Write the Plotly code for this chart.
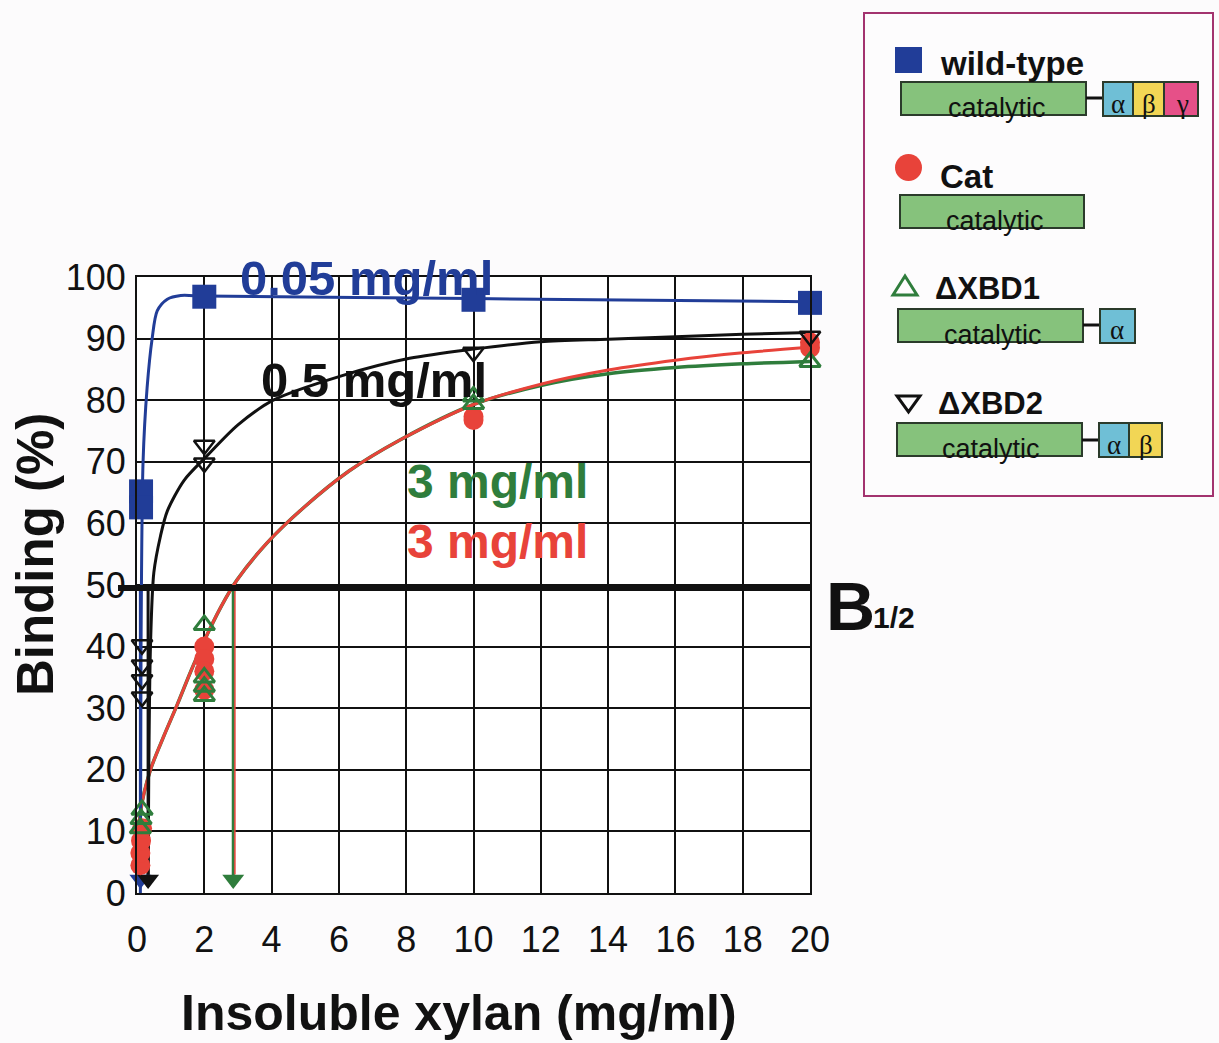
import plotly.graph_objects as go

# ---------------- data ----------------
x_ticks = [0, 2, 4, 6, 8, 10, 12, 14, 16, 18, 20]
y_ticks = [0, 10, 20, 30, 40, 50, 60, 70, 80, 90, 100]

# measured points
wt_x = [0.12, 0.12, 2, 10, 20]
wt_y = [65.2, 62.6, 96.8, 96.3, 95.8]

cat_x = [0.1, 0.1, 0.12, 0.15, 2, 2, 2, 2, 10, 10, 20, 20]
cat_y = [4.5, 6.5, 8.5, 10.5, 40, 38, 36, 33, 77.3, 76.8, 89.4, 88.5]

xbd1_x = [0.1, 0.12, 0.15, 2, 2, 2, 2, 10, 10, 20]
xbd1_y = [10.5, 12, 13.5, 43.5, 35, 33.5, 32, 80.6, 79.4, 86.2]

xbd2_x = [0.15, 0.15, 0.15, 0.15, 2, 2, 10, 20]
xbd2_y = [40.3, 37, 34.6, 31.8, 72.7, 69.8, 87.8, 90.4]

# fitted curves
wt_curve_x = [0.1, 0.12, 0.18, 0.3, 0.45, 0.6, 0.9, 1.3, 2, 10, 20]
wt_curve_y = [0, 40, 70, 82, 90, 94.5, 96.4, 97.0, 96.9, 96.5, 96.0]

xbd2_curve_x = [0.33, 0.35, 0.4, 0.5, 0.7, 0.9, 1.4, 2.05, 3, 4.05, 6.1, 8.1, 10, 12, 14, 16, 18, 20]
xbd2_curve_y = [2, 20, 40, 52, 58, 62, 67, 70.8, 76, 80, 84, 86.8, 88.3, 89.5, 89.9, 90.3, 90.7, 91.0]

cat_curve_x = [0.05, 0.1, 0.4, 0.8, 1.19, 1.6, 1.96, 2.5, 2.97, 3.86, 4.94, 6.3, 7.8, 10, 12, 14, 16, 18, 20]
cat_curve_y = [3, 13, 20, 25.5, 30.5, 36, 40.5, 46.5, 50.8, 56.8, 62.5, 68.5, 73.5, 79.3, 82.6, 84.9, 86.5, 87.7, 88.6]

xbd1_curve_x = [0.05, 0.1, 0.4, 0.8, 1.19, 1.6, 1.96, 2.5, 2.97, 3.86, 4.94, 6.3, 7.8, 10, 12, 14, 16, 18, 20]
xbd1_curve_y = [3, 13, 20, 25.5, 30.5, 36, 40.5, 46.5, 50.8, 56.8, 62.5, 68.5, 73.5, 79.3, 82.4, 84.3, 85.3, 85.9, 86.3]

# B1/2 values (x where binding = 50 %)
b_half_x = [0.1, 0.33, 2.86]
b_half_level = 50

BLUE = "#213d98"
RED = "#e8433a"
GREEN = "#2f7d3c"
BLACK = "#111111"
BOX_GREEN = "#86c27c"
ALPHA_C = "#6fbfd6"
BETA_C = "#f2d655"
GAMMA_C = "#e65088"
FONT = "Liberation Sans, Arial, sans-serif"
SERIF = "Liberation Serif, Times New Roman, serif"

W, H = 1219, 1043
L, R, T, B = 137, 810, 277, 893


def px(x):
    return (x - L) / (R - L)


def py(y):
    return (B - y) / (B - T)


fig = go.Figure()

# curves
fig.add_trace(go.Scatter(x=xbd1_curve_x, y=xbd1_curve_y, mode="lines",
                         line=dict(color=GREEN, width=3.5, shape="spline", smoothing=0.8),
                         cliponaxis=False, hoverinfo="skip"))
fig.add_trace(go.Scatter(x=cat_curve_x, y=cat_curve_y, mode="lines",
                         line=dict(color=RED, width=3, shape="spline", smoothing=0.8),
                         cliponaxis=False, hoverinfo="skip"))
fig.add_trace(go.Scatter(x=xbd2_curve_x, y=xbd2_curve_y, mode="lines",
                         line=dict(color=BLACK, width=3, shape="spline", smoothing=0.8),
                         cliponaxis=False, hoverinfo="skip"))
fig.add_trace(go.Scatter(x=wt_curve_x, y=wt_curve_y, mode="lines",
                         line=dict(color=BLUE, width=3, shape="spline", smoothing=0.8),
                         cliponaxis=False, hoverinfo="skip"))

# B1/2 drop lines with arrowheads
drop_colors = [BLUE, BLACK, GREEN]
for bx, c in zip(b_half_x, drop_colors):
    fig.add_trace(go.Scatter(x=[bx, bx], y=[b_half_level, 1], mode="lines",
                             line=dict(color=c, width=3), hoverinfo="skip"))
fig.add_trace(go.Scatter(x=[b_half_x[2] + 0.05, b_half_x[2] + 0.05], y=[b_half_level, 3],
                         mode="lines", line=dict(color=RED, width=1.5), hoverinfo="skip"))
fig.add_trace(go.Scatter(x=b_half_x, y=[2.2] * len(b_half_x), mode="markers",
                         marker=dict(symbol="triangle-down", size=19, color=drop_colors,
                                     line=dict(width=0)),
                         cliponaxis=False, hoverinfo="skip"))

# measured points
fig.add_trace(go.Scatter(x=cat_x, y=cat_y, mode="markers",
                         marker=dict(symbol="circle", size=20, color=RED, line=dict(width=0)),
                         cliponaxis=False))
fig.add_trace(go.Scatter(x=xbd1_x, y=xbd1_y, mode="markers",
                         marker=dict(symbol="triangle-up-open", size=18, color=GREEN,
                                     line=dict(width=3, color=GREEN)),
                         cliponaxis=False))
fig.add_trace(go.Scatter(x=xbd2_x, y=xbd2_y, mode="markers",
                         marker=dict(symbol="triangle-down-open", size=18, color=BLACK,
                                     line=dict(width=2.5, color=BLACK)),
                         cliponaxis=False))
fig.add_trace(go.Scatter(x=wt_x, y=wt_y, mode="markers",
                         marker=dict(symbol="square", size=24, color=BLUE, line=dict(width=0)),
                         cliponaxis=False))

shapes = []
# thick B1/2 line
shapes.append(dict(type="line", xref="paper", yref="y", x0=px(118), x1=1.0,
                   y0=b_half_level - 0.5, y1=b_half_level - 0.5,
                   line=dict(color=BLACK, width=6), layer="above"))

# legend frame
shapes.append(dict(type="rect", xref="paper", yref="paper",
                   x0=px(864), x1=px(1213), y0=py(13), y1=py(496),
                   line=dict(color="#a3336f", width=2), fillcolor="#fdfcfd", layer="above"))


def box(x0, x1, y0, y1, fill):
    shapes.append(dict(type="rect", xref="paper", yref="paper",
                       x0=px(x0), x1=px(x1), y0=py(y1), y1=py(y0),
                       line=dict(color="#2b3b2b", width=2), fillcolor=fill, layer="above"))


def connector(x0, x1, y):
    shapes.append(dict(type="line", xref="paper", yref="paper",
                       x0=px(x0), x1=px(x1), y0=py(y), y1=py(y),
                       line=dict(color=BLACK, width=3), layer="above"))


annotations = []


def text(x, y, s, size, color=BLACK, bold=False, family=FONT, xanchor="center"):
    annotations.append(dict(xref="paper", yref="paper", x=px(x), y=py(y),
                            text=f"<b>{s}</b>" if bold else s, showarrow=False,
                            xanchor=xanchor, yanchor="middle",
                            font=dict(size=size, color=color, family=family)))


# wild-type entry
shapes.append(dict(type="rect", xref="paper", yref="paper", x0=px(895), x1=px(922),
                   y0=py(73), y1=py(47), line=dict(width=0), fillcolor=BLUE, layer="above"))
text(938, 63, "wild-type", 33, bold=True, xanchor="left")
box(901, 1086, 82, 115, BOX_GREEN)
connector(1086, 1103, 98)
box(1103, 1133, 82, 116, ALPHA_C)
box(1133, 1164, 82, 116, BETA_C)
box(1164, 1198, 82, 116, GAMMA_C)
text(997, 108, "catalytic", 27)
text(1118, 104, "α", 27, family=SERIF)
text(1149, 104, "β", 27, family=SERIF)
text(1182, 104, "γ", 27, family=SERIF)

# Cat entry
shapes.append(dict(type="circle", xref="paper", yref="paper", x0=px(895), x1=px(922),
                   y0=py(181), y1=py(154), line=dict(width=0), fillcolor=RED, layer="above"))
text(938, 176, "Cat", 33, bold=True, xanchor="left")
box(900, 1084, 195, 228, BOX_GREEN)
text(995, 221, "catalytic", 27)

# dXBD1 entry
shapes.append(dict(type="path", xref="paper", yref="paper",
                   path=f"M {px(893)} {py(295)} L {px(917)} {py(295)} L {px(905)} {py(276)} Z",
                   line=dict(color=GREEN, width=3), fillcolor="rgba(0,0,0,0)", layer="above"))
text(933, 288, "ΔXBD1", 31, bold=True, xanchor="left")
box(898, 1083, 309, 342, BOX_GREEN)
connector(1083, 1100, 325)
box(1100, 1135, 309, 343, ALPHA_C)
text(993, 335, "catalytic", 27)
text(1117, 330, "α", 27, family=SERIF)

# dXBD2 entry
shapes.append(dict(type="path", xref="paper", yref="paper",
                   path=f"M {px(897)} {py(396)} L {px(920)} {py(396)} L {px(908.5)} {py(412)} Z",
                   line=dict(color=BLACK, width=3), fillcolor="rgba(0,0,0,0)", layer="above"))
text(936, 403, "ΔXBD2", 31, bold=True, xanchor="left")
box(897, 1082, 423, 456, BOX_GREEN)
connector(1082, 1099, 440)
box(1099, 1129, 423, 457, ALPHA_C)
box(1129, 1162, 423, 457, BETA_C)
text(991, 449, "catalytic", 27)
text(1114, 445, "α", 27, family=SERIF)
text(1146, 445, "β", 27, family=SERIF)

# curve labels
text(366, 278, "0.05 mg/ml", 49, color=BLUE, bold=True)
text(374, 380, "0.5 mg/ml", 49, color=BLACK, bold=True)
text(497, 481, "3 mg/ml", 48, color=GREEN, bold=True)
text(497, 541, "3 mg/ml", 48, color=RED, bold=True)

# B1/2 label
text(824, 606, "B", 68, bold=True, xanchor="left")
text(871, 617, "1/2", 30, bold=True, xanchor="left")

# axis titles
text(459, 1013, "Insoluble xylan (mg/ml)", 50, bold=True)
annotations.append(dict(xref="paper", yref="paper", x=px(35), y=py(555),
                        text="<b>Binding (%)</b>", showarrow=False, textangle=-90,
                        xanchor="center", yanchor="middle",
                        font=dict(size=51, color=BLACK, family=FONT)))

fig.update_layout(
    width=W, height=H,
    margin=dict(l=L, r=W - R, t=T, b=H - B, pad=0),
    paper_bgcolor="#fcfbfc",
    plot_bgcolor="white",
    showlegend=False,
    shapes=shapes,
    annotations=annotations,
    xaxis=dict(range=[0, 20], tickvals=x_ticks, ticktext=[str(v) for v in x_ticks],
               showgrid=True, gridcolor=BLACK, gridwidth=2, zeroline=False,
               showline=True, linecolor=BLACK, linewidth=2, mirror=True,
               ticks="outside", ticklen=14, tickcolor="rgba(0,0,0,0)",
               tickfont=dict(size=36, color=BLACK, family=FONT), fixedrange=True),
    yaxis=dict(range=[0, 100], tickvals=y_ticks, ticktext=[str(v) for v in y_ticks],
               showgrid=True, gridcolor=BLACK, gridwidth=2, zeroline=False,
               showline=True, linecolor=BLACK, linewidth=2, mirror=True,
               ticks="outside", ticklen=2, tickcolor="rgba(0,0,0,0)",
               tickfont=dict(size=36, color=BLACK, family=FONT), fixedrange=True),
)

fig.write_html("out.html")
